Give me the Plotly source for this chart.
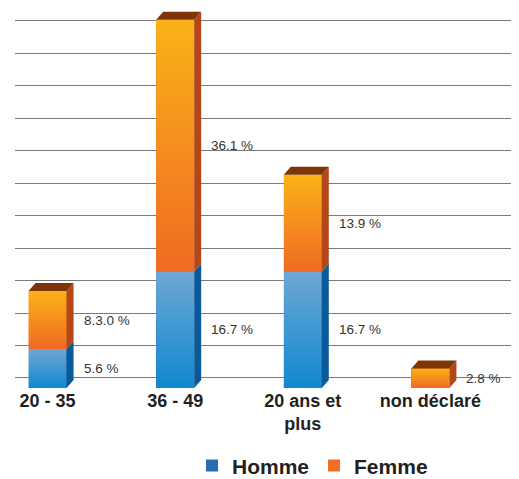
import plotly.graph_objects as go

# age groups and shares (%)
categories = ["20 - 35", "36 - 49", "20 ans et<br>plus", "non déclaré"]
homme = [5.6, 16.7, 16.7, 0]
femme = [8.3, 36.1, 13.9, 2.8]
homme_labels = ["5.6 %", "16.7 %", "16.7 %", ""]
femme_labels = ["8.3.0 %", "36.1 %", "13.9 %", "2.8 %"]

# page body has an 8px margin, so the figure is a bit smaller than the window
W, H = 511, 471
margin = dict(l=7, r=4, t=0, b=91, autoexpand=False)
x_range = [-0.255, 3.663]
y_range = [0, 54.5]
bar_w = 0.298

# pixel -> data conversion for the fake 3D depth
px_x = (x_range[1] - x_range[0]) / (W - margin["l"] - margin["r"])
px_y = (y_range[1] - y_range[0]) / (H - margin["t"] - margin["b"])
DX, DY = 7 * px_x, 8 * px_y

styles = {
    "Homme": dict(solid="#2b6cb4", top="#6ea7d4", bottom="#1088d0", side="#0a5a9a"),
    "Femme": dict(solid="#f26f22", top="#fab218", bottom="#f06a23", side="#b3471a"),
}
roof = "#7e3608"

xs = list(range(len(categories)))
fig = go.Figure()

for name, vals in (("Homme", homme), ("Femme", femme)):
    fig.add_trace(go.Bar(x=xs, y=vals, width=bar_w, name=name,
                         marker=dict(color=styles[name]["solid"], line_width=0)))

shapes = []
annotations = []
for i in xs:
    base = 0
    top_val = homme[i] + femme[i]
    for name, vals, labels in (("Homme", homme, homme_labels), ("Femme", femme, femme_labels)):
        v = vals[i]
        if v <= 0:
            continue
        b, t = base, base + v
        x0, x1 = i - bar_w / 2, i + bar_w / 2
        st = styles[name]
        # gradient front face
        fig.add_trace(go.Scatter(
            x=[x0, x1, x1, x0, x0], y=[b, b, t, t, b],
            mode="lines", line=dict(width=0), fill="toself",
            fillgradient=dict(type="vertical", colorscale=[[0, st["bottom"]], [1, st["top"]]]),
            showlegend=False, hoverinfo="skip"))
        # side face
        shapes.append(dict(type="path", xref="x", yref="y", line_width=0, fillcolor=st["side"],
                           path=f"M{x1},{b} L{x1 + DX},{b + DY} L{x1 + DX},{t + DY} L{x1},{t} Z"))
        if t == top_val:
            shapes.append(dict(type="path", xref="x", yref="y", line_width=0, fillcolor=roof,
                               path=f"M{x0},{t} L{x0 + DX},{t + DY} L{x1 + DX},{t + DY} L{x1},{t} Z"))
        annotations.append(dict(x=i, y=(b + t) / 2, text=labels[i], showarrow=False,
                                xanchor="left", yanchor="middle", xshift=34,
                                font=dict(size=13.5, color="#333333", family="Liberation Sans")))
        base = t

fig.update_layout(
    width=W, height=H, margin=margin,
    barmode="stack", plot_bgcolor="white", paper_bgcolor="white",
    shapes=shapes, annotations=annotations,
    font=dict(family="Liberation Sans", color="#231f20"),
    legend=dict(orientation="h", traceorder="normal", x=0.595, xanchor="center",
                y=-0.205, yanchor="middle",
                font=dict(size=21, weight="bold", color="#231f20"), itemclick=False),
)
fig.update_xaxes(range=x_range, tickvals=xs, ticktext=categories, showgrid=False,
                 zeroline=False, showline=False, ticks="", automargin=False,
                 tickfont=dict(size=18, weight="bold", color="#231f20"))
fig.update_yaxes(range=y_range, tick0=1.435, dtick=4.657, showticklabels=False, automargin=False,
                 showgrid=True, gridcolor="#7a7a7a", gridwidth=1.2, zeroline=False, showline=False)

fig.write_html("out.html")
